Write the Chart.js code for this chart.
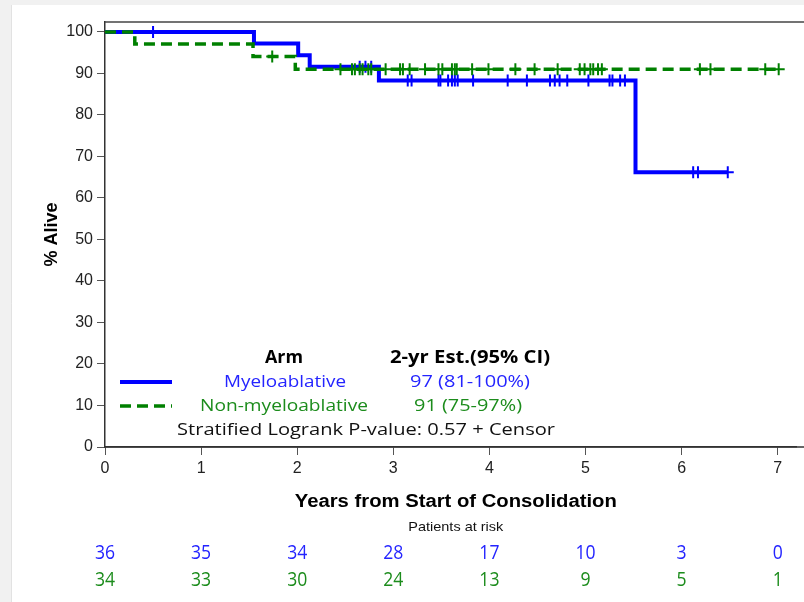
<!DOCTYPE html>
<html>
<head>
<meta charset="utf-8">
<script src="https://cdn.jsdelivr.net/npm/chart.js@4.4.1/dist/chart.umd.min.js"></script>
<style>
  html, body { margin: 0; padding: 0; background: #fff; }
  #wrap { position: relative; width: 804px; height: 602px; }
</style>
</head>
<body>
<div id="wrap"><canvas id="km" width="804" height="602"></canvas></div>
<script>
// ---- values ----
const xTicks = [0, 1, 2, 3, 4, 5, 6, 7];
const yTicks = [0, 10, 20, 30, 40, 50, 60, 70, 80, 90, 100];

// Myeloablative: time of each step (years) and % alive after it
const myeloTimes = [0, 1.55, 2.01, 2.13, 2.85, 5.52, 6.48];
const myeloSurv = [100, 97.2, 94.4, 91.6, 88.3, 66.2, 66.2];
const myeloCensor = [0.5, 2.65, 2.71, 2.77, 3.15, 3.19, 3.47, 3.49, 3.57, 3.61, 3.64, 3.67,
    3.83, 4.19, 4.39, 4.63, 4.68, 4.73, 4.81, 5.03, 5.25, 5.28, 5.36, 5.41, 6.12, 6.17, 6.48];

// Non-myeloablative
const nonMyeloTimes = [0, 0.31, 1.54, 1.98, 7.01];
const nonMyeloSurv = [100, 97.1, 94.1, 91.0, 91.0];
const nonMyeloCensor = [1.74, 2.45, 2.57, 2.6, 2.65, 2.68, 2.74, 2.77, 2.92, 3.07, 3.1, 3.17,
    3.33, 3.47, 3.51, 3.61, 3.64, 3.66, 3.82, 3.99, 4.27, 4.47, 4.71, 4.94, 4.99, 5.05, 5.08,
    5.13, 5.17, 6.19, 6.30, 6.87, 7.01];

// Patients at risk at each year
const riskMyelo = [36, 35, 34, 28, 17, 10, 3, 0];
const riskNonMyelo = [34, 33, 30, 24, 13, 9, 5, 1];

const BLUE = '#0000ff';
const GREEN = '#008000';
const BLUE_TXT = '#2424ff';
const GREEN_TXT = '#1c8c1c';

// step curve points
function stepPoints(times, surv) {
    return times.map((t, i) => ({ x: t, y: surv[i] }));
}

// censor marks sit on the curve at their time
function censorPoints(censor, times, surv) {
    return censor.map(t => {
        let y = surv[0];
        for (let i = 0; i < times.length; i++) {
            if (times[i] <= t) y = surv[i];
        }
        return { x: t, y: y };
    });
}

// text squeezed/stretched horizontally; width = wanted width in px or null, sx = fixed factor
function drawText(ctx, text, x, y, align, width, sx) {
    let k = sx || 1;
    if (width) k = width / ctx.measureText(text).width;
    ctx.save();
    ctx.translate(x, y);
    ctx.scale(k, 1);
    ctx.textAlign = align;
    ctx.fillText(text, 0, 0);
    ctx.restore();
}

// background, frame, legend, titles and the at-risk table
const decorations = {
    id: 'decorations',
    beforeDraw(chart) {
        const ctx = chart.ctx;
        ctx.save();
        ctx.fillStyle = '#f1f1f1';
        ctx.fillRect(0, 0, 804, 602);
        ctx.fillStyle = '#ffffff';
        ctx.fillRect(12, 5, 792, 597);
        ctx.strokeStyle = '#e2e2e2';
        ctx.lineWidth = 1;
        ctx.beginPath();
        ctx.moveTo(11.5, 5);
        ctx.lineTo(11.5, 602);
        ctx.stroke();
        ctx.restore();
    },
    afterDraw(chart) {
        const ctx = chart.ctx;
        const area = chart.chartArea;
        const xs = chart.scales.x;
        ctx.save();

        // top frame line, and the x axis line carried on to the right edge
        ctx.strokeStyle = '#444';
        ctx.lineWidth = 1.5;
        ctx.beginPath();
        ctx.moveTo(area.left, area.top);
        ctx.lineTo(804, area.top);
        ctx.stroke();
        ctx.strokeStyle = '#333';
        ctx.beginPath();
        ctx.moveTo(area.left, area.bottom);
        ctx.lineTo(804, area.bottom);
        ctx.stroke();

        ctx.textBaseline = 'middle';
        ctx.fillStyle = '#000';

        // axis titles
        const midX = xs.getPixelForValue(3.65);
        ctx.font = 'bold 18px "Liberation Sans", Arial, sans-serif';
        drawText(ctx, 'Years from Start of Consolidation', midX, 502, 'center', 322);

        ctx.save();
        ctx.translate(52, (area.top + area.bottom) / 2);
        ctx.rotate(-Math.PI / 2);
        ctx.textAlign = 'center';
        ctx.fillText('% Alive', 0, 0);
        ctx.restore();

        // patients at risk
        ctx.font = '13px "Liberation Sans", Arial, sans-serif';
        ctx.fillStyle = '#111';
        drawText(ctx, 'Patients at risk', midX, 527, 'center', 95);
        ctx.font = '20px "Open Sans", sans-serif';
        xTicks.forEach((t, i) => {
            const px = xs.getPixelForValue(t);
            ctx.fillStyle = BLUE_TXT;
            drawText(ctx, String(riskMyelo[i]), px, 553, 'center', null, 0.88);
            ctx.fillStyle = GREEN_TXT;
            drawText(ctx, String(riskNonMyelo[i]), px, 580, 'center', null, 0.88);
        });

        // legend inside the plot
        ctx.font = 'bold 17px "Open Sans", sans-serif';
        ctx.fillStyle = '#000';
        drawText(ctx, 'Arm', 284, 358, 'center', 38);
        drawText(ctx, '2-yr Est.(95% CI)', 470, 358, 'center', 160);

        ctx.lineWidth = 4;
        ctx.strokeStyle = BLUE;
        ctx.beginPath();
        ctx.moveTo(120, 382);
        ctx.lineTo(172, 382);
        ctx.stroke();

        ctx.lineWidth = 3.5;
        ctx.strokeStyle = GREEN;
        ctx.setLineDash([11, 6]);
        ctx.beginPath();
        ctx.moveTo(120, 406);
        ctx.lineTo(172, 406);
        ctx.stroke();
        ctx.setLineDash([]);

        ctx.font = '17px "Open Sans", sans-serif';
        ctx.fillStyle = BLUE_TXT;
        drawText(ctx, 'Myeloablative', 285, 382, 'center', 122);
        drawText(ctx, '97 (81-100%)', 470, 382, 'center', 120);
        ctx.fillStyle = GREEN_TXT;
        drawText(ctx, 'Non-myeloablative', 284, 406, 'center', 168);
        drawText(ctx, '91 (75-97%)', 468, 406, 'center', 108);
        ctx.fillStyle = '#111';
        drawText(ctx, 'Stratified Logrank P-value: 0.57 + Censor', 177, 430, 'left', 378);

        ctx.restore();
    }
};

const ctx = document.getElementById('km').getContext('2d');
new Chart(ctx, {
    type: 'scatter',
    data: {
        datasets: [
            {
                label: 'Non-myeloablative',
                data: stepPoints(nonMyeloTimes, nonMyeloSurv),
                showLine: true,
                stepped: true,
                borderColor: GREEN,
                borderWidth: 3.5,
                borderDash: [11, 6],
                pointRadius: 0
            },
            {
                label: 'Non-myeloablative censor',
                data: censorPoints(nonMyeloCensor, nonMyeloTimes, nonMyeloSurv),
                showLine: false,
                pointStyle: 'cross',
                pointRadius: 6,
                borderColor: GREEN,
                borderWidth: 2
            },
            {
                label: 'Myeloablative',
                data: stepPoints(myeloTimes, myeloSurv),
                showLine: true,
                stepped: true,
                borderColor: BLUE,
                borderWidth: 4,
                pointRadius: 0
            },
            {
                label: 'Myeloablative censor',
                data: censorPoints(myeloCensor, myeloTimes, myeloSurv),
                showLine: false,
                pointStyle: 'cross',
                pointRadius: 6,
                borderColor: BLUE,
                borderWidth: 2
            }
        ]
    },
    options: {
        responsive: false,
        animation: false,
        devicePixelRatio: 1,
        layout: { padding: { top: 22, right: 0, bottom: 0, left: 0 } },
        plugins: {
            legend: { display: false },
            tooltip: { enabled: false }
        },
        scales: {
            x: {
                type: 'linear',
                min: 0,
                max: 7.19,
                afterFit: s => { s.height = 155; },
                afterBuildTicks: s => { s.ticks = xTicks.map(v => ({ value: v })); },
                grid: { drawOnChartArea: false, drawTicks: true, tickLength: 8, color: '#555' },
                border: { color: '#333', width: 1.5 },
                ticks: {
                    font: { family: 'Liberation Sans', size: 16 },
                    color: '#222',
                    padding: 4,
                    maxRotation: 0
                }
            },
            y: {
                type: 'linear',
                min: 0,
                max: 102.4,
                afterFit: s => { s.width = 105; },
                afterBuildTicks: s => { s.ticks = yTicks.map(v => ({ value: v })); },
                grid: { drawOnChartArea: false, drawTicks: true, tickLength: 8, color: '#555' },
                border: { color: '#333', width: 1.5 },
                ticks: {
                    font: { family: 'Liberation Sans', size: 16 },
                    color: '#222',
                    padding: 4
                }
            }
        }
    },
    plugins: [decorations]
});
</script>
</body>
</html>
